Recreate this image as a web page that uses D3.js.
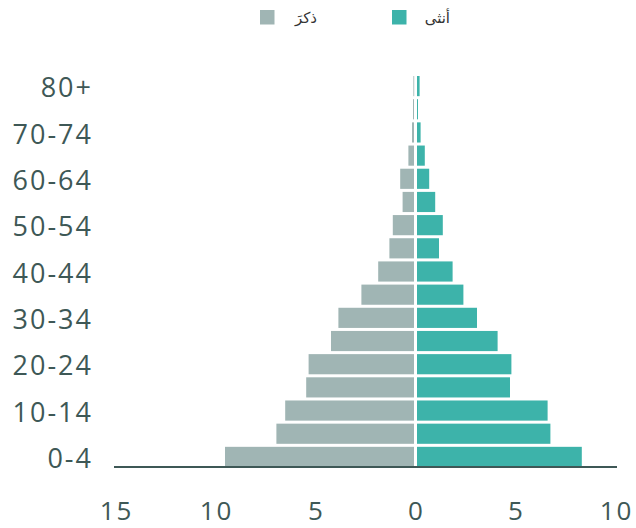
<!DOCTYPE html>
<html>
<head>
<meta charset="utf-8">
<script src="https://cdn.jsdelivr.net/npm/d3@7/dist/d3.min.js"></script>
<style>
  body { margin: 0; background: #fff; }
  svg { display: block; }
</style>
</head>
<body>
<svg id="chart" width="636" height="528"></svg>
<script>
const ageGroups = ["0-4","5-9","10-14","15-19","20-24","25-29","30-34","35-39","40-44","45-49","50-54","55-59","60-64","65-69","70-74","75-79","80+"];
const maleValues = [9.55,6.98,6.54,5.49,5.37,4.25,3.88,2.73,1.89,1.33,1.16,0.67,0.79,0.38,0.20,0.15,0.13];
const femaleValues = [8.29,6.72,6.58,4.70,4.77,4.08,3.05,2.37,1.83,1.15,1.34,0.96,0.66,0.44,0.23,0.10,0.18];
const xTicks = [-15,-10,-5,0,5,10];
const legendLabels = ["ذكرَ", "أنثى"];

const maleColor = "#a0b5b4", femaleColor = "#3db3aa", textColor = "#3e5856";
const font = "'Open Sans', Lato, sans-serif";

const svg = d3.select("#chart");
const x = d3.scaleLinear().domain([-15, 10]).range([116, 616]);
const y = d3.scaleBand().domain(ageGroups.slice().reverse()).range([74.5, 468.5]).paddingInner(0.13).paddingOuter(0.065);

const data = ageGroups.map((a, i) => ({age: a, m: maleValues[i], f: femaleValues[i]}));

// male bars
svg.append("g").selectAll("rect").data(data).join("rect")
  .attr("x", d => x(-d.m))
  .attr("y", d => y(d.age))
  .attr("width", d => Math.max(0.8, x(0) - 2 - x(-d.m)))
  .attr("height", y.bandwidth())
  .attr("fill", maleColor);

// female bars
svg.append("g").selectAll("rect").data(data).join("rect")
  .attr("x", x(0) + 1)
  .attr("y", d => y(d.age))
  .attr("width", d => Math.max(0.8, x(d.f) - x(0) - 1))
  .attr("height", y.bandwidth())
  .attr("fill", femaleColor);

// y labels
svg.append("g").selectAll("text").data(ageGroups.filter((a, i) => i % 2 === 0)).join("text")
  .attr("x", 93)
  .attr("y", d => y(d) + y.bandwidth() / 2 + 1.5)
  .attr("dy", "0.36em")
  .attr("text-anchor", "end")
  .attr("font-family", font)
  .attr("font-size", 27)
  .attr("letter-spacing", 2)
  .attr("fill", textColor)
  .text(d => d);

// x axis
const xAxis = svg.append("g")
  .attr("transform", "translate(0,467)")
  .call(d3.axisBottom(x).tickValues(xTicks).tickSize(0).tickPadding(35).tickFormat(d => Math.abs(d)));
xAxis.select(".domain").attr("stroke", textColor).attr("stroke-width", 2).attr("d", "M114,0H617");
xAxis.selectAll("text")
  .attr("font-family", font)
  .attr("font-size", 26)
  .attr("letter-spacing", 2)
  .attr("fill", textColor);

// legend
const legend = [
  {label: legendLabels[0], color: maleColor, sx: 260, tx: 317},
  {label: legendLabels[1], color: femaleColor, sx: 392, tx: 450}
];
const lg = svg.append("g");
lg.selectAll("rect").data(legend).join("rect")
  .attr("x", d => d.sx).attr("y", 10).attr("width", 14.5).attr("height", 14.5)
  .attr("fill", d => d.color);
lg.selectAll("text").data(legend).join("text")
  .attr("x", d => d.tx).attr("y", 17.5).attr("dy", "0.36em")
  .attr("text-anchor", "end")
  .attr("font-family", "'Noto Sans', 'DejaVu Sans', sans-serif")
  .attr("font-size", 15)
  .attr("fill", "#333")
  .text(d => d.label);
</script>
</body>
</html>
